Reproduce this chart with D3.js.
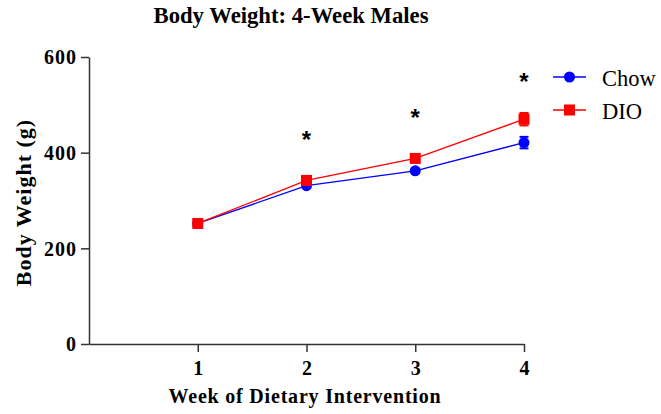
<!DOCTYPE html>
<html>
<head>
<meta charset="utf-8">
<script src="https://cdn.jsdelivr.net/npm/d3@7"></script>
<style>
  html, body { margin: 0; padding: 0; background: #fff; }
  svg { display: block; }
  text { font-family: "Liberation Serif", "Times New Roman", serif; }
</style>
</head>
<body>
<svg id="chart" width="661" height="414"></svg>
<script>
// Mean body weight (g) by week, with SEM
const weeks = [1, 2, 3, 4];
const chowMean = [252, 331, 362, 421];
const chowSem  = [3, 4, 5, 12];
const dioMean  = [252, 342, 388, 470];
const dioSem   = [3, 4, 5, 13];

// Significance markers: week and height (g) of the asterisk
const starWeeks  = [2, 3, 4];
const starLevels = [432, 479, 555];

const yTicks = [0, 200, 400, 600];
const xTicks = [1, 2, 3, 4];

const svg = d3.select("#chart");

const x = d3.scaleLinear().domain([0, 4]).range([89, 524]);
const y = d3.scaleLinear().domain([0, 600]).range([344, 57]);

// Title
svg.append("text")
  .attr("x", 291).attr("y", 23)
  .attr("text-anchor", "middle")
  .attr("font-size", 22.7).attr("font-weight", "bold")
  .text("Body Weight: 4-Week Males");

// Axes
const axisColor = "#333";
const yAxis = svg.append("g")
  .attr("transform", `translate(${x(0)},0)`)
  .call(d3.axisLeft(y).tickValues(yTicks).tickFormat(d3.format("d"))
    .tickSize(8).tickSizeOuter(0).tickPadding(4));
const xAxis = svg.append("g")
  .attr("transform", `translate(0,${y(0)})`)
  .call(d3.axisBottom(x).tickValues(xTicks).tickFormat(d3.format("d"))
    .tickSize(8).tickSizeOuter(0).tickPadding(9));

[yAxis, xAxis].forEach(g => {
  g.selectAll("path, line").attr("stroke", axisColor).attr("stroke-width", 1.5);
  g.selectAll("text")
    .attr("fill", "#000")
    .attr("font-size", 20).attr("font-weight", "bold")
    .style("font-family", "'Liberation Serif', serif");
});
yAxis.selectAll(".tick text").attr("dy", "0.34em").attr("letter-spacing", 1);

// Axis titles
svg.append("text")
  .attr("x", 305).attr("y", 403)
  .attr("text-anchor", "middle")
  .attr("font-size", 20).attr("font-weight", "bold")
  .attr("letter-spacing", 0.8)
  .text("Week of Dietary Intervention");

svg.append("text")
  .attr("transform", `translate(31,${(y(0) + y(600)) / 2 + 2}) rotate(-90)`)
  .attr("text-anchor", "middle")
  .attr("font-size", 22).attr("font-weight", "bold")
  .attr("letter-spacing", 1)
  .text("Body Weight (g)");

// Series
const series = [
  { name: "Chow", mean: chowMean, sem: chowSem, color: "#0000ff", shape: "circle" },
  { name: "DIO",  mean: dioMean,  sem: dioSem,  color: "#ff0000", shape: "square" }
];

const line = d3.line().x(d => x(d.w)).y(d => y(d.m));

function drawMarker(g, shape, color) {
  if (shape === "circle") {
    g.append("circle").attr("r", 5.5).attr("fill", color);
  } else {
    g.append("rect").attr("x", -5.5).attr("y", -5.5)
      .attr("width", 11).attr("height", 11).attr("fill", color);
  }
}

series.forEach(s => {
  const pts = weeks.map((w, i) => ({ w, m: s.mean[i], e: s.sem[i] }));
  const g = svg.append("g");
  g.append("path").datum(pts)
    .attr("d", line).attr("fill", "none")
    .attr("stroke", s.color).attr("stroke-width", 1.3);
  // error bars
  const eb = g.selectAll(".eb").data(pts).enter().append("g");
  eb.append("line")
    .attr("x1", d => x(d.w)).attr("x2", d => x(d.w))
    .attr("y1", d => y(d.m - d.e)).attr("y2", d => y(d.m + d.e))
    .attr("stroke", s.color).attr("stroke-width", 1.5);
  eb.append("line")
    .attr("x1", d => x(d.w) - 4.5).attr("x2", d => x(d.w) + 4.5)
    .attr("y1", d => y(d.m + d.e)).attr("y2", d => y(d.m + d.e))
    .attr("stroke", s.color).attr("stroke-width", 2);
  eb.append("line")
    .attr("x1", d => x(d.w) - 4.5).attr("x2", d => x(d.w) + 4.5)
    .attr("y1", d => y(d.m - d.e)).attr("y2", d => y(d.m - d.e))
    .attr("stroke", s.color).attr("stroke-width", 2);
  pts.forEach(d => {
    const m = g.append("g").attr("transform", `translate(${x(d.w)},${y(d.m)})`);
    drawMarker(m, s.shape, s.color);
  });
});

// Asterisks
svg.selectAll(".star").data(starWeeks.map((w, i) => ({ w, v: starLevels[i] })))
  .enter().append("text")
  .attr("x", d => x(d.w)).attr("y", d => y(d.v) + 11)
  .attr("text-anchor", "middle")
  .attr("font-size", 24).attr("font-weight", "bold")
  .style("font-family", "'Liberation Sans', Arial, sans-serif")
  .text("*");

// Legend
const legend = svg.append("g");
series.forEach((s, i) => {
  const ly = 77 + i * 33;
  legend.append("line")
    .attr("x1", 553).attr("x2", 586).attr("y1", ly).attr("y2", ly)
    .attr("stroke", s.color).attr("stroke-width", 1.3);
  const m = legend.append("g").attr("transform", `translate(569.5,${ly})`);
  drawMarker(m, s.shape, s.color);
  legend.append("text")
    .attr("x", 602).attr("y", ly + 9)
    .attr("font-size", 22.5)
    .text(s.name);
});
</script>
</body>
</html>
